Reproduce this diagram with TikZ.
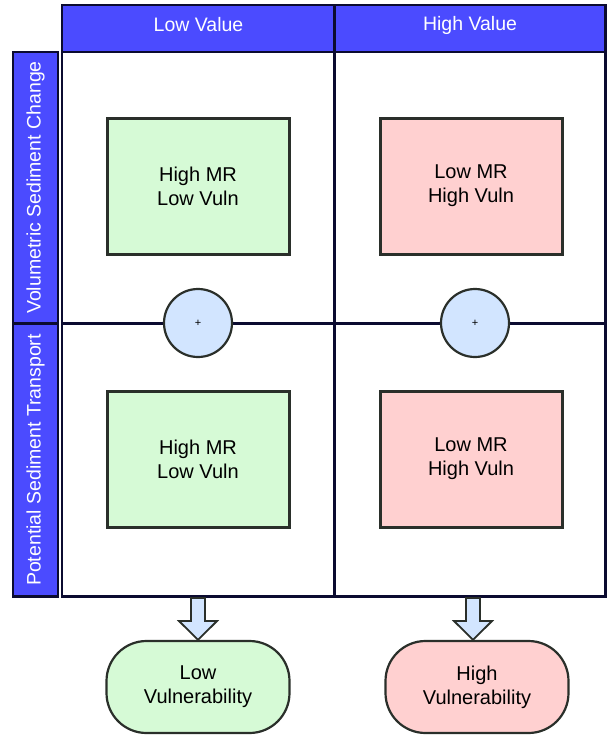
\documentclass[tikz,border=0pt]{standalone}
\usepackage{fontspec}
\setmainfont{Liberation Sans}
\definecolor{hdr}{HTML}{4B4BFF}
\definecolor{navy}{HTML}{0B0B30}
\definecolor{gfill}{HTML}{D6FAD6}
\definecolor{rfill}{HTML}{FFD0D0}
\definecolor{cfill}{HTML}{D2E5FF}
\definecolor{edge}{HTML}{2A2F2A}
\tikzset{
  hdrbox/.style={draw=navy, line width=2.5pt, fill=hdr, text=white, font=\fontsize{19.5}{22}\selectfont, inner sep=0pt},
  cellbox/.style={draw=navy, line width=2.5pt, fill=white, inner sep=0pt},
  mrbox/.style={draw=edge, line width=3pt, minimum width=182pt, minimum height=136pt, align=center, font=\fontsize{20}{24}\selectfont, inner sep=0pt},
  plus/.style={circle, draw=edge, line width=2.2pt, fill=cfill, minimum size=68pt, inner sep=0pt, font=\fontsize{11}{12}\selectfont},
  vulbox/.style={draw=edge, line width=2.2pt, rounded corners=40pt, minimum width=183pt, minimum height=92pt, align=center, font=\fontsize{20}{24}\selectfont, inner sep=0pt},
  arrowshape/.style={draw=edge, line width=1.8pt, fill=cfill, line join=miter}
}
\begin{document}
\begin{tikzpicture}[x=1pt,y=-1pt]
\useasboundingbox (0,0) rectangle (606,736);
% column headers
\node[hdrbox, minimum width=273pt, minimum height=47pt] (h1) at (198.5,28.5) {};
\node[hdrbox, minimum width=271pt, minimum height=47pt] (h2) at (470,28.5) {};
\node[text=white, font=\fontsize{19.5}{22}\selectfont] (h1t) at (198.5,25) {Low Value};
\node[text=white, font=\fontsize{19.5}{22}\selectfont] (h2t) at (470,25) {High Value};
% row headers
\node[hdrbox, minimum width=45pt, minimum height=271pt] (r1) at (35.5,187.5) {};
\node[hdrbox, minimum width=45pt, minimum height=273pt] (r2) at (35.5,460) {};
\node[rotate=90, text=white, font=\fontsize{19.5}{22}\selectfont] (r1t) at (r1.center) {Volumetric Sediment Change};
\node[rotate=90, text=white, font=\fontsize{19.5}{22}\selectfont] (r2t) at (r2.center) {Potential Sediment Transport};
% cells
\node[cellbox, minimum width=273pt, minimum height=271pt] (c11) at (198.5,187.5) {};
\node[cellbox, minimum width=271pt, minimum height=271pt] (c12) at (470,187.5) {};
\node[cellbox, minimum width=273pt, minimum height=273pt] (c21) at (198.5,460) {};
\node[cellbox, minimum width=271pt, minimum height=273pt] (c22) at (470,460) {};
% boxes
\node[mrbox, fill=gfill] (b11) at (198,186) {High MR\\Low Vuln};
\node[mrbox, fill=rfill] (b12) at (471,186) {Low MR\\High Vuln};
\node[mrbox, fill=gfill] (b21) at (198,459) {High MR\\Low Vuln};
\node[mrbox, fill=rfill] (b22) at (471,459) {Low MR\\High Vuln};
% circles
\node[plus] (p1) at (198,323) {+};
\node[plus] (p2) at (475,323) {+};
% outcome
\node[vulbox, fill=gfill] (v1) at (198,687) {Low\\Vulnerability};
\node[vulbox, fill=rfill] (v2) at (477,687) {High\\Vulnerability};
% block arrows
\coordinate (a1) at (198,598);
\coordinate (a2) at (473,598);
\draw[arrowshape] ([xshift=-7pt]a1) -- ++(0,23) -- ++(-12,0) -- (a1 |- v1.north) -- ([xshift=19pt,yshift=-23pt]a1) -- ++(-12,0) -- ([xshift=7pt]a1) -- cycle;
\draw[arrowshape] ([xshift=-7pt]a2) -- ++(0,23) -- ++(-12,0) -- (a2 |- v2.north) -- ([xshift=19pt,yshift=-23pt]a2) -- ++(-12,0) -- ([xshift=7pt]a2) -- cycle;
\end{tikzpicture}
\end{document}
